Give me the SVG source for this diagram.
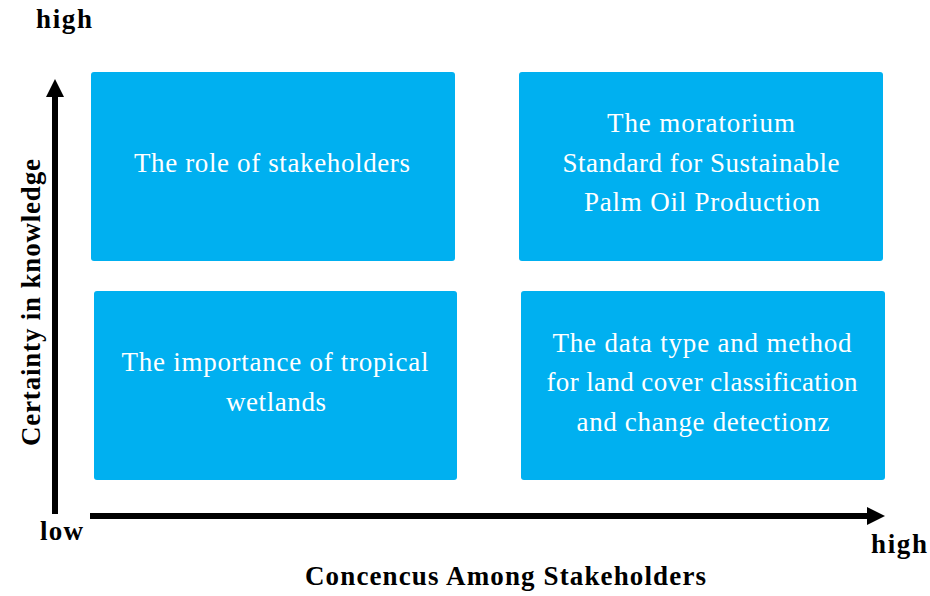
<svg xmlns="http://www.w3.org/2000/svg" width="930" height="596" viewBox="0 0 930 596">
  <style>
    .box { fill: #00B0F0; }
    .btxt { font-family: "Liberation Serif", "DejaVu Serif", serif; font-size: 27px; fill: #ffffff; text-anchor: middle; }
    .ax { font-family: "Liberation Serif", "DejaVu Serif", serif; font-weight: bold; font-size: 27px; fill: #000000; }
    .axis { stroke: #000000; stroke-width: 6; fill: none; }
  </style>
  <defs>
    <marker id="arrow" viewBox="0 0 10 10" refX="0" refY="5" markerWidth="3" markerHeight="3" orient="auto" markerUnits="strokeWidth">
      <path d="M0,0 L10,5 L0,10 Z" fill="#000000"/>
    </marker>
  </defs>

  <!-- axes -->
  <g id="connectors">
    <line class="axis" x1="55" y1="514" x2="55" y2="97" marker-end="url(#arrow)"/>
    <line class="axis" x1="90" y1="516" x2="867" y2="516" marker-end="url(#arrow)"/>
  </g>

  <g id="node-role">
    <rect class="box" x="91" y="72" width="364" height="189" rx="3"/>
    <text class="btxt" x="272" y="172" textLength="276" lengthAdjust="spacing">The role of stakeholders</text>
  </g>

  <g id="node-moratorium">
    <rect class="box" x="519" y="72" width="364" height="189" rx="3"/>
    <text class="btxt" x="701" y="132" textLength="188" lengthAdjust="spacing">The moratorium</text>
    <text class="btxt" x="701" y="172" textLength="277" lengthAdjust="spacing">Standard for Sustainable</text>
    <text class="btxt" x="702" y="211" textLength="236" lengthAdjust="spacing">Palm Oil Production</text>
  </g>

  <g id="node-wetlands">
    <rect class="box" x="94" y="291" width="363" height="189" rx="3"/>
    <text class="btxt" x="275" y="371" textLength="307" lengthAdjust="spacing">The importance of tropical</text>
    <text class="btxt" x="276" y="411" textLength="100" lengthAdjust="spacing">wetlands</text>
  </g>

  <g id="node-data">
    <rect class="box" x="521" y="291" width="364" height="189" rx="3"/>
    <text class="btxt" x="702" y="352" textLength="299" lengthAdjust="spacing">The data type and method</text>
    <text class="btxt" x="702" y="391" textLength="311" lengthAdjust="spacing">for land cover classification</text>
    <text class="btxt" x="703" y="431" textLength="253" lengthAdjust="spacing">and change detectionz</text>
  </g>

  <g id="labels">
    <text class="ax" x="36" y="28" textLength="56" lengthAdjust="spacing">high</text>
    <text class="ax" x="40" y="540" textLength="43" lengthAdjust="spacing">low</text>
    <text class="ax" x="871" y="553" textLength="56" lengthAdjust="spacing">high</text>
    <text class="ax" x="305" y="585" textLength="401" lengthAdjust="spacing">Concencus Among Stakeholders</text>
    <text class="ax" transform="translate(40,446) rotate(-90)" textLength="287" lengthAdjust="spacing">Certainty in knowledge</text>
  </g>
</svg>
